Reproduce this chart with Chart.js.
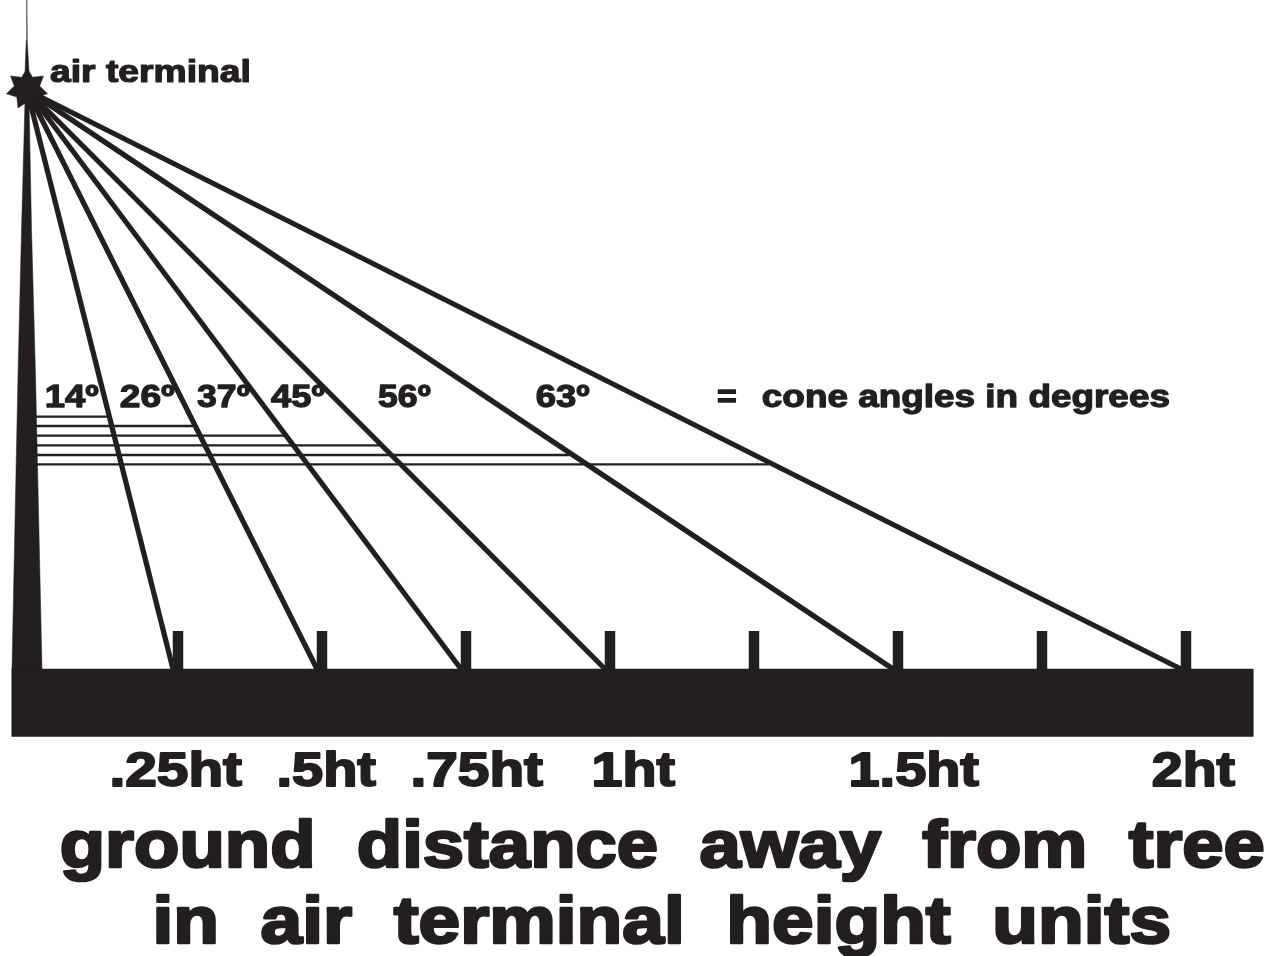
<!DOCTYPE html>
<html>
<head>
<meta charset="utf-8">
<style>html,body{margin:0;padding:0;background:#fff}canvas{display:block}</style>
<script src="https://cdn.jsdelivr.net/npm/chart.js@4/dist/chart.umd.js"></script>
</head>
<body>
<canvas id="c" width="1271" height="956"></canvas>
<script>
// ---- data, in air-terminal-height units ----
const apexX = -0.01215, apexY = 1;
const rayGroundHits = [0.2413, 0.4913, 0.7413, 0.9913, 1.4913, 1.9913];
const coneHeights  = [0.4358, 0.4197, 0.4029, 0.3863, 0.3696, 0.3535];
const coneReach    = [0.1285, 0.2760, 0.4358, 0.6007, 0.9306, 1.2760];
const coneStartX   = 0.0035;
const groundTicks  = [0.25, 0.5, 0.75, 1, 1.25, 1.5, 1.75, 2];
const tickTop      = 0.0656;
const groundX      = [-0.0391, 2.1163];
const groundY      = [0, -0.1166];
const mastX = [-0.0382, -0.0278, -0.0217, -0.0156, -0.0087, -0.0043, 0.0026, 0.0139];
const mastY = [0, 0.5078, 0.7582, 0.9827, 0.9827, 0.7582, 0.5078, 0];
const spikeX = [-0.0156, -0.0134, -0.0125, -0.0118, -0.0087];
const spikeY = [1.031, 1.0864, 1.1554, 1.0864, 1.031];
const starX = [-0.01215,-0.00243,0.01632,0.00990,0.02344,0.00556,0.00347,-0.01215,-0.02778,-0.02986,-0.04774,-0.03420,-0.04063,-0.02188];
const starY = [1.03800,1.02193,1.02418,1.00674,0.99361,0.98774,0.96891,0.97927,0.96891,0.98774,0.99361,1.00674,1.02418,1.02193];

// ---- text ----
const coneLabels = ['14º','26º','37º','45º','56º','63º'];
const distLabels = ['.25ht','.5ht','.75ht','1ht','1.5ht','2ht'];
const otherLabels = ['air terminal','=','cone angles in degrees'];
const titleLines = ['ground  distance  away  from  tree','in  air  terminal  height  units'];

// ---- text layout: [left, right, baseline, font px] ----
const coneLayout = [[47,99,407],[121,175,407],[197,250,407],[271,325,407],[378,431,407],[537,590,407]].map(a=>a.concat(32));
const distLayout = [[113,242,786],[280,376,786],[414,543,786],[595,675,786],[852,979,786],[1153,1235,786]].map(a=>a.concat(48));
const otherLayout = [[50,249,82,31],[718,736,407,32],[763,1169,407,32]];
const titleLayout = [[62,1263,867,66],[157,1168,943,66]];

const INK = '#231f20';
const textPlugin = {
  id: 'diagramText',
  afterDatasetsDraw(chart) {
    const ctx = chart.ctx;
    const draw = (text, l) => {
      const [left, right, base, size] = l;
      ctx.save();
      ctx.font = `bold ${size}px "Liberation Sans", Arial, sans-serif`;
      ctx.fillStyle = INK; ctx.strokeStyle = INK;
      ctx.lineWidth = size * 0.04; ctx.lineJoin = 'round';
      ctx.textAlign = 'left'; ctx.textBaseline = 'alphabetic';
      const m = ctx.measureText(text);
      const inkW = m.actualBoundingBoxRight + m.actualBoundingBoxLeft;
      ctx.translate(left, base);
      ctx.scale((right - left) / inkW, 1);
      ctx.translate(m.actualBoundingBoxLeft, 0);
      ctx.fillText(text, 0, 0);
      ctx.strokeText(text, 0, 0);
      ctx.restore();
    };
    coneLabels.forEach((t,i)=>draw(t,coneLayout[i]));
    distLabels.forEach((t,i)=>draw(t,distLayout[i]));
    otherLabels.forEach((t,i)=>draw(t,otherLayout[i]));
    titleLines.forEach((t,i)=>draw(t,titleLayout[i]));
  }
};

const base = {showLine:true, pointRadius:0, pointHoverRadius:0, borderColor:INK, backgroundColor:INK, tension:0, spanGaps:false};
const poly = (xs,ys) => Object.assign({}, base, {
  data: xs.map((x,i)=>({x, y:ys[i]})), fill:'shape', borderWidth:0.5
});
const datasets = [];
datasets.push(poly([groundX[0],groundX[1],groundX[1],groundX[0]],[groundY[0],groundY[0],groundY[1],groundY[1]]));
datasets.push(poly(mastX,mastY));
datasets.push(poly(spikeX,spikeY));
datasets.push(poly(starX,starY));
rayGroundHits.forEach(h=>datasets.push(Object.assign({},base,{
  data:[{x:apexX,y:apexY},{x:h,y:0}], borderWidth:5.2, fill:false, borderCapStyle:'butt'
})));
coneHeights.forEach((y,i)=>datasets.push(Object.assign({},base,{
  data:[{x:coneStartX,y},{x:coneReach[i],y}], borderWidth:2.3, fill:false
})));
groundTicks.forEach(x=>datasets.push(Object.assign({},base,{
  data:[{x,y:0},{x,y:tickTop}], borderWidth:10.5, fill:false
})));

new Chart(document.getElementById('c'), {
  type:'scatter',
  data:{datasets},
  plugins:[textPlugin],
  options:{
    responsive:false, animation:false,
    layout:{padding:0},
    plugins:{legend:{display:false},tooltip:{enabled:false},title:{display:false}},
    scales:{
      x:{type:'linear',display:false,min:-0.05903,max:2.14757},
      y:{type:'linear',display:false,min:-0.49568,max:1.15544}
    }
  }
});
</script>
</body>
</html>
